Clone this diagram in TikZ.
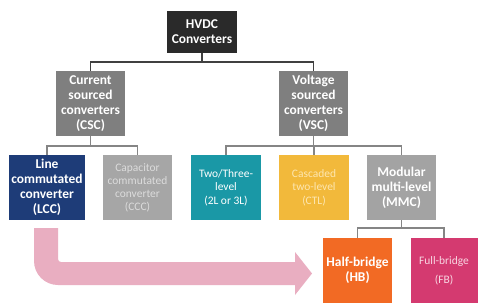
\documentclass[tikz,border=0pt]{standalone}
\usepackage{fontspec}
\setmainfont{Carlito}
\definecolor{cdark}{HTML}{2A2A2A}
\definecolor{cgray}{HTML}{7F7F7F}
\definecolor{cnavy}{HTML}{1E3C78}
\definecolor{clight}{HTML}{A6A6A6}
\definecolor{clighttext}{HTML}{DCDCDC}
\definecolor{cteal}{HTML}{1A98A6}
\definecolor{cyellow}{HTML}{F2B93B}
\definecolor{cyellowtext}{HTML}{FDE6B0}
\definecolor{cmmc}{HTML}{A3A3A3}
\definecolor{corange}{HTML}{F26A24}
\definecolor{cmagenta}{HTML}{D43A70}
\definecolor{cfbtext}{HTML}{F8D6E2}
\definecolor{carrow}{HTML}{E9AEC1}
\definecolor{cline}{HTML}{404040}
\definecolor{cline2}{HTML}{858585}
\begin{document}
\begin{tikzpicture}[x=1bp,y=-1bp,
  box/.style={rectangle,inner sep=0pt,align=center,anchor=center},
  boldtext/.style={font=\fontsize{13.5}{15}\selectfont\bfseries,text=white},
  regtext/.style={font=\fontsize{11.5}{13}\selectfont},
  conn/.style={draw=cline,line width=1.5bp},
  conn2/.style={draw=cline2,line width=1.5bp}]
\useasboundingbox[fill=white] (0,0) rectangle (480,304);
% nodes
\node[box,boldtext,fill=cdark,minimum width=70bp,minimum height=42bp] (hvdc) at (202,32) {HVDC\\Converters};
\node[box,boldtext,fill=cgray,minimum width=69bp,minimum height=65bp] (csc) at (90.5,103.5) {Current\\sourced\\converters\\(CSC)};
\node[box,boldtext,fill=cgray,minimum width=69bp,minimum height=65bp] (vsc) at (313.5,103.5) {Voltage\\sourced\\converters\\(VSC)};
\node[box,boldtext,fill=cnavy,minimum width=76bp,minimum height=65bp] (lcc) at (47,187.5) {Line\\commutated\\converter\\(LCC)};
\node[box,regtext,text=clighttext,fill=clight,minimum width=69bp,minimum height=65bp] (ccc) at (137.5,187.5) {Capacitor\\commutated\\converter\\(CCC)};
\node[box,font=\fontsize{11.5}{13.5}\selectfont,text=white,fill=cteal,minimum width=70bp,minimum height=65bp] (tl) at (226,187.5) {Two/Three-\\level\\(2L or 3L)};
\node[box,font=\fontsize{11.5}{13.5}\selectfont,text=cyellowtext,fill=cyellow,minimum width=70bp,minimum height=65bp] (ctl) at (314,187.5) {Cascaded\\two-level\\(CTL)};
\node[box,boldtext,fill=cmmc,minimum width=69bp,minimum height=65bp] (mmc) at (401.5,187.5) {Modular\\multi-level\\(MMC)};
\node[box,boldtext,fill=corange,minimum width=69bp,minimum height=65bp] (hb) at (357.5,270.5) {Half-bridge\\(HB)};
\node[box,font=\fontsize{11.5}{19}\selectfont,text=cfbtext,fill=cmagenta,minimum width=67bp,minimum height=65bp] (fb) at (444,270.5) {Full-bridge\\(FB)};
% connectors
\draw[conn] (hvdc.south) -- ++(0,9) -| (csc.north);
\draw[conn] (hvdc.south) -- ++(0,9) -| (vsc.north);
\draw[conn2] (csc.south) -- ++(0,10) -| (lcc.north);
\draw[conn2] (csc.south) -- ++(0,10) -| (ccc.north);
\draw[conn2] (vsc.south) -- ++(0,10) -| (tl.north);
\draw[conn2] (vsc.south) -- ++(0,10) -| (ctl.north);
\draw[conn2] (vsc.south) -- ++(0,10) -| (mmc.north);
\draw[conn2] (mmc.south) -- ++(0,8) -| (hb.north);
\draw[conn2] (mmc.south) -- ++(0,8) -| (fb.north);
% big arrow from LCC to HB
\coordinate (as) at (34,228);
\coordinate (ae) at (312,273.5);
\fill[carrow] (as) -- (34,261) .. controls (34,274.25) and (44.75,285) .. (58,285)
  -- (295,285) -- (295,295) -- (ae) -- (295,252) -- (295,262) -- (61,262)
  .. controls (59.3,262) and (58,260.7) .. (58,259) -- (58,228) -- cycle;
\end{tikzpicture}
\end{document}
